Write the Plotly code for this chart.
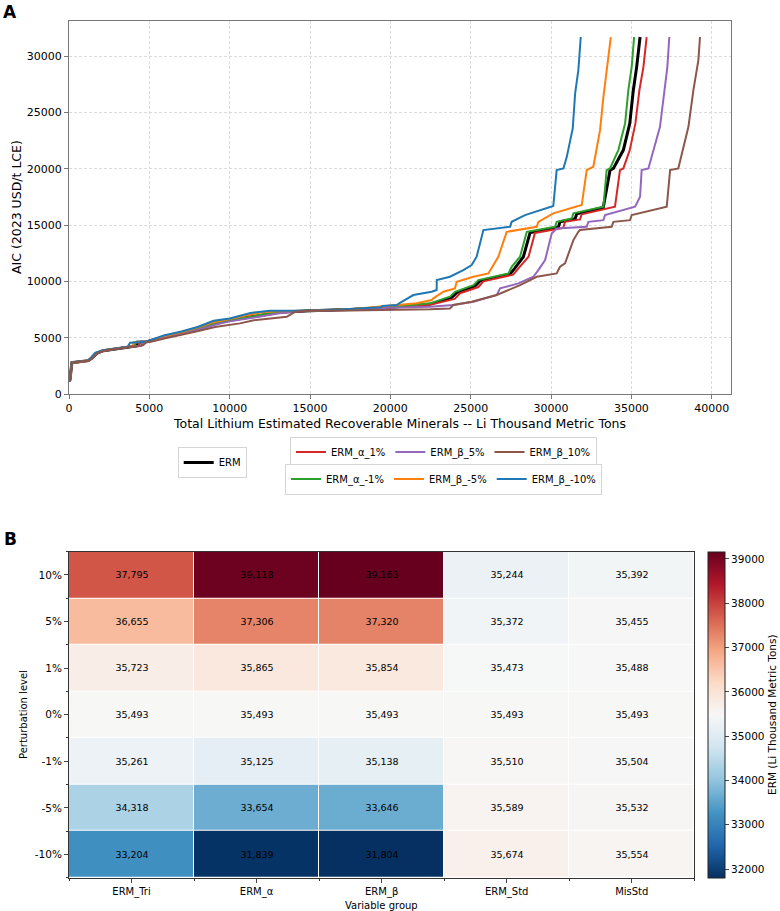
import plotly.graph_objects as go

FONT = "DejaVu Sans"

# ---------------- Panel A data ----------------
erm_x = [0, 60, 180, 1200, 1410, 1720, 2140, 2660, 3700, 4200, 4250, 4840, 5980, 7000, 8050, 9090, 10000, 11000, 12000, 13000, 14000, 15000, 17500, 20000, 22470, 23800, 24130, 25270, 25580, 27450, 27760, 28280, 28700, 30450, 30560, 31500, 31600, 33250, 33670, 33880, 34500, 34900, 35120, 35330, 35540]
erm_y = [1150, 1250, 2780, 2960, 3170, 3610, 3845, 3965, 4200, 4260, 4600, 4640, 5090, 5400, 5800, 6270, 6550, 6750, 7000, 7250, 7340, 7390, 7510, 7700, 7980, 8550, 9000, 9600, 10050, 10650, 11200, 12190, 14350, 14800, 15290, 15560, 16000, 16560, 19880, 20030, 21660, 24030, 26980, 29050, 31700]

a_p1_x = [0, 60, 185, 1210, 1420, 1730, 2150, 2670, 3710, 4350, 4400, 4840, 5990, 7000, 8050, 9090, 10000, 11000, 12000, 13000, 14000, 15000, 17500, 20000, 22470, 24000, 24340, 25480, 25790, 27650, 27970, 28600, 29000, 30760, 30870, 31800, 31910, 33980, 34290, 34500, 34900, 35250, 35500, 35750, 35950]
a_p1_y = [1150, 1250, 2780, 2960, 3170, 3610, 3845, 3965, 4200, 4260, 4600, 4640, 5060, 5380, 5760, 6220, 6500, 6720, 6950, 7200, 7330, 7390, 7500, 7680, 7920, 8450, 8950, 9500, 10000, 10600, 11150, 12190, 14300, 14750, 15290, 15500, 15950, 16630, 19880, 20030, 21660, 24030, 26980, 29050, 31700]

a_m1_x = [0, 60, 180, 1200, 1400, 1710, 2130, 2650, 3690, 4100, 4150, 4830, 5970, 7000, 8050, 9090, 10000, 11000, 12000, 13000, 14000, 15000, 17500, 20000, 22470, 23710, 24030, 25170, 25480, 27350, 27550, 28070, 28490, 30250, 30350, 31290, 31390, 33260, 33460, 33670, 34190, 34610, 34810, 35020, 35170]
a_m1_y = [1150, 1250, 2780, 2960, 3170, 3610, 3845, 3965, 4200, 4260, 4600, 4640, 5100, 5420, 5830, 6300, 6600, 6780, 7050, 7280, 7350, 7390, 7520, 7720, 8050, 8640, 9080, 9670, 10120, 10710, 11300, 12190, 14400, 14850, 15290, 15590, 16040, 16630, 19880, 20030, 21660, 24030, 26980, 29050, 31700]

b_p5_x = [0, 60, 185, 1210, 1420, 1730, 2150, 2670, 3710, 4500, 4600, 4850, 6000, 7000, 8050, 9090, 10000, 11000, 12000, 13000, 14000, 15000, 17500, 20000, 22470, 23920, 25170, 26620, 26830, 27970, 28900, 29210, 29630, 30040, 30350, 32220, 32320, 33260, 33360, 35230, 35540, 35640, 36060, 36780, 36990, 37240, 37360]
b_p5_y = [1150, 1250, 2780, 2960, 3170, 3610, 3845, 3965, 4200, 4250, 4600, 4640, 5000, 5300, 5700, 6150, 6450, 6650, 6900, 7150, 7320, 7390, 7480, 7650, 7750, 7900, 8190, 8790, 9380, 9820, 10410, 11000, 11890, 14260, 14700, 14850, 15290, 15440, 15890, 16630, 17510, 19880, 20030, 23730, 26390, 29050, 31700]

b_m5_x = [0, 60, 175, 1180, 1380, 1680, 2100, 2630, 3680, 3950, 4000, 4820, 5950, 7000, 8000, 9000, 10000, 11000, 12000, 13000, 15000, 17500, 19900, 21640, 22570, 22680, 23300, 24020, 24130, 25170, 26100, 26410, 26720, 27240, 29110, 29210, 30140, 31910, 32220, 32630, 33050, 33260, 33570, 33720]
b_m5_y = [1150, 1250, 2780, 2960, 3190, 3630, 3860, 3965, 4200, 4250, 4580, 4640, 5150, 5480, 5900, 6380, 6650, 6950, 7250, 7350, 7390, 7530, 7800, 8050, 8340, 8490, 9080, 9380, 9970, 10410, 10710, 11450, 12190, 14400, 14850, 15290, 16040, 16780, 19880, 20180, 23430, 26390, 29650, 31700]

b_p10_x = [0, 60, 190, 1220, 1430, 1740, 2160, 2680, 3720, 4630, 4830, 5100, 6000, 7000, 8050, 9090, 10640, 11500, 12500, 13550, 14070, 15000, 17500, 20000, 22470, 23710, 23920, 25060, 26620, 28070, 29110, 30350, 30560, 30870, 31390, 31700, 31800, 33770, 33880, 34920, 35020, 37200, 37410, 37920, 38550, 38860, 39170, 39270]
b_p10_y = [1150, 1250, 2780, 2960, 3170, 3610, 3845, 3965, 4200, 4350, 4640, 4640, 4950, 5250, 5600, 5950, 6270, 6550, 6700, 6860, 7300, 7390, 7420, 7450, 7520, 7600, 7900, 8190, 8790, 9670, 10410, 10710, 11300, 11600, 13670, 14400, 14560, 14850, 15290, 15440, 15890, 16630, 19880, 20030, 23730, 26980, 29650, 31700]

b_m10_x = [0, 60, 170, 1150, 1350, 1620, 2050, 2600, 3650, 3800, 4800, 5900, 7000, 8000, 9000, 10000, 10700, 11300, 12500, 15000, 17500, 19400, 19500, 20400, 20600, 21430, 22570, 22880, 22890, 23710, 24540, 25060, 25370, 25790, 27450, 27550, 28380, 30140, 30350, 30770, 30980, 31350, 31500, 31700, 31850]
b_m10_y = [1150, 1250, 2780, 2960, 3200, 3650, 3870, 3970, 4200, 4560, 4640, 5200, 5550, 5950, 6500, 6700, 7000, 7200, 7390, 7400, 7550, 7700, 7810, 7900, 8100, 8790, 9080, 9230, 10120, 10410, 11000, 11450, 12190, 14560, 14850, 15290, 15890, 16690, 19880, 20030, 21060, 23580, 26690, 28760, 31700]

# ---------------- Panel B data ----------------
groups = ["ERM_Tri", "ERM_α", "ERM_β", "ERM_Std", "MisStd"]
levels = ["10%", "5%", "1%", "0%", "-1%", "-5%", "-10%"]
row_10 = [37795, 39118, 39163, 35244, 35392]
row_5 = [36655, 37306, 37320, 35372, 35455]
row_1 = [35723, 35865, 35854, 35473, 35488]
row_0 = [35493, 35493, 35493, 35493, 35493]
row_m1 = [35261, 35125, 35138, 35510, 35504]
row_m5 = [34318, 33654, 33646, 35589, 35532]
row_m10 = [33204, 31839, 31804, 35674, 35554]
cb_ticks = [32000, 33000, 34000, 35000, 36000, 37000, 38000, 39000]

W, H = 780, 911
def px(v):
    return v / W
def py(v):
    return 1 - v / H

fig = go.Figure()

series = [
    ("ERM", erm_x, erm_y, "black", 3.0, "legend", 1),
    ("ERM_α_1%", a_p1_x, a_p1_y, "#d62728", 2.0, "legend2", 1),
    ("ERM_α_-1%", a_m1_x, a_m1_y, "#2ca02c", 2.0, "legend3", 1),
    ("ERM_β_5%", b_p5_x, b_p5_y, "#9467bd", 2.0, "legend2", 2),
    ("ERM_β_-5%", b_m5_x, b_m5_y, "#ff7f0e", 2.0, "legend3", 2),
    ("ERM_β_-10%", b_m10_x, b_m10_y, "#1f77b4", 2.0, "legend3", 3),
    ("ERM_β_10%", b_p10_x, b_p10_y, "#8c564b", 2.0, "legend2", 3),
]
for name, xs, ys, col, lw, leg, rank in series:
    fig.add_trace(go.Scatter(x=xs, y=ys, mode="lines", name=name,
                             line=dict(color=col, width=lw), showlegend=True,
                             xaxis="x", yaxis="y", legend=leg, legendrank=rank))

zvals = [row_10, row_5, row_1, row_0, row_m1, row_m5, row_m10]
zmin = min(min(r) for r in zvals)
zmax = max(max(r) for r in zvals)
rdbu_r = ['#053061', '#2166ac', '#4393c3', '#92c5de', '#d1e5f0', '#f7f7f7',
          '#fddbc7', '#f4a582', '#d6604d', '#b2182b', '#67001f']
cscale = [[i / (len(rdbu_r) - 1), c] for i, c in enumerate(rdbu_r)]

fig.add_trace(go.Heatmap(
    z=zvals, x=list(range(len(groups))), y=list(range(len(levels))),
    xaxis="x2", yaxis="y2", colorscale=cscale, zmin=zmin, zmax=zmax,
    xgap=1, ygap=1, texttemplate="%{z:,}",
    textfont=dict(family=FONT, size=9.5, color="black"),
    showscale=True, showlegend=False,
    colorbar=dict(x=px(707.7), xanchor="left", y=py(877.7), yanchor="bottom",
                  len=(877.7 - 551.7) / H, lenmode="fraction",
                  thickness=17, thicknessmode="pixels", xpad=0, ypad=0,
                  outlinewidth=1, outlinecolor="#222",
                  tickvals=cb_ticks, tickformat="d", ticks="outside", ticklen=4,
                  tickfont=dict(family=FONT, size=10.5, color="black"),
                  title=dict(text="ERM (Li Thousand Metric Tons)", side="right",
                             font=dict(family=FONT, size=10.5, color="black")))
))

grid = dict(showgrid=True, gridcolor="#dcdcdc", griddash="3px,2px", gridwidth=0.8)

fig.update_layout(
    template="none",
    width=W, height=H, margin=dict(l=0, r=0, t=0, b=0, pad=0, autoexpand=False),
    paper_bgcolor="white", plot_bgcolor="white", showlegend=True,
    font=dict(family=FONT, size=11, color="black"),
    xaxis=dict(domain=[px(69), px(731)], range=[0, 41200], anchor="y", automargin=False,
               tickvals=[0, 5000, 10000, 15000, 20000, 25000, 30000, 35000, 40000],
               tickformat="d", ticks="outside", ticklen=4, tickcolor="#777",
               showline=True, linecolor="#777", linewidth=1.2, mirror=True,
               zeroline=False, tickfont=dict(size=11), **grid),
    yaxis=dict(domain=[py(394), py(20.7)], range=[0, 33150], anchor="x", automargin=False,
               tickvals=[0, 5000, 10000, 15000, 20000, 25000, 30000],
               tickformat="d", ticks="outside", ticklen=4, tickcolor="#777",
               showline=True, linecolor="#777", linewidth=1.2, mirror=True,
               zeroline=False, tickfont=dict(size=11), **grid),
    xaxis2=dict(domain=[px(69), px(694.3)], range=[-0.5, len(groups) - 0.5], anchor="y2",
                automargin=False,
                tickvals=list(range(len(groups))), ticktext=groups,
                ticks="outside", ticklen=4, showgrid=False, zeroline=False,
                showline=True, linecolor="#333", linewidth=1, mirror=True,
                minor=dict(ticks="outside", ticklen=2, tick0=0.5, dtick=1, tickcolor="#333"),
                tickfont=dict(size=10)),
    yaxis2=dict(domain=[py(877.7), py(551.7)], range=[len(levels) - 0.5, -0.5], anchor="x2",
                automargin=False,
                tickvals=list(range(len(levels))), ticktext=levels,
                ticks="outside", ticklen=4, showgrid=False, zeroline=False,
                showline=True, linecolor="#333", linewidth=1, mirror=True,
                minor=dict(ticks="outside", ticklen=2, tick0=0.5, dtick=1, tickcolor="#333"),
                tickfont=dict(size=10.5)),
    legend=dict(x=px(177.7), y=py(447), xanchor="left", yanchor="top",
                orientation="h", bordercolor="#d5d5d5", borderwidth=1, bgcolor="white",
                font=dict(size=10)),
    legend2=dict(x=px(290), y=py(436.5), xanchor="left", yanchor="top",
                 orientation="h", bordercolor="#d5d5d5", borderwidth=1, bgcolor="white",
                 font=dict(size=10)),
    legend3=dict(x=px(285), y=py(463.5), xanchor="left", yanchor="top",
                 orientation="h", bordercolor="#d5d5d5", borderwidth=1, bgcolor="white",
                 font=dict(size=10)),
    annotations=[
        dict(text="<b>A</b>", x=px(10), y=py(12), xref="paper", yref="paper",
             xanchor="center", yanchor="middle", showarrow=False, font=dict(size=17)),
        dict(text="<b>B</b>", x=px(10), y=py(539), xref="paper", yref="paper",
             xanchor="center", yanchor="middle", showarrow=False, font=dict(size=17)),
        dict(text="Total Lithium Estimated Recoverable Minerals -- Li Thousand Metric Tons",
             x=px(400), y=py(423), xref="paper", yref="paper", showarrow=False,
             xanchor="center", yanchor="middle", font=dict(size=12.5)),
        dict(text="AIC (2023 USD/t LCE)", x=px(16), y=py(207), xref="paper", yref="paper",
             xanchor="center", yanchor="middle", showarrow=False, textangle=-90,
             font=dict(size=12.5)),
        dict(text="Variable group", x=px(381), y=py(905), xref="paper", yref="paper",
             xanchor="center", yanchor="middle", showarrow=False, font=dict(size=10)),
        dict(text="Perturbation level", x=px(23), y=py(715), xref="paper", yref="paper",
             xanchor="center", yanchor="middle", showarrow=False, textangle=-90,
             font=dict(size=10)),
    ],
)

fig.write_html("out.html")
